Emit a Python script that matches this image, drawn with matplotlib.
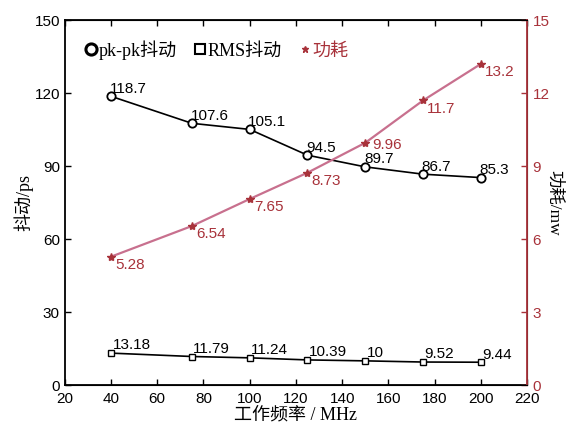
import numpy as np
import matplotlib.pyplot as plt

freq = [40, 75, 100, 125, 150, 175, 200]
pkpk = [118.7, 107.6, 105.1, 94.5, 89.7, 86.7, 85.3]
rms = [13.18, 11.79, 11.24, 10.39, 10, 9.52, 9.44]
power = [5.28, 6.54, 7.65, 8.73, 9.96, 11.7, 13.2]

pkpk_lbl = ['118.7', '107.6', '105.1', '94.5', '89.7', '86.7', '85.3']
rms_lbl = ['13.18', '11.79', '11.24', '10.39', '10', '9.52', '9.44']
pow_lbl = ['5.28', '6.54', '7.65', '8.73', '9.96', '11.7', '13.2']

serif_cjk = ['Liberation Serif', 'Noto Sans CJK SC']
red = '#a8323a'

plt.rcParams['font.family'] = ['Liberation Sans', 'Noto Sans CJK SC']

fig = plt.figure(figsize=(5.68, 4.28), dpi=100)
ax = fig.add_axes([0.114, 0.100, 0.814, 0.853])
ax2 = ax.twinx()

l1, = ax.plot(freq, pkpk, '-', color='black', lw=1.2, marker='o', ms=6,
              mfc='white', mec='black', mew=1.3, label='pk-pk抖动')
l2, = ax.plot(freq, rms, '-', color='black', lw=1.2, marker='s', ms=5,
              mfc='white', mec='black', mew=1.0, label='RMS抖动')
l3, = ax2.plot(freq, power, '-', color='#c8708e', lw=1.6, marker='*', ms=6,
               mfc=red, mec=red, label='功耗')

fs = 11
for x, y, t in zip(freq, pkpk, pkpk_lbl):
    ax.annotate(t, (x, y), textcoords='offset points', xytext=(-1, 5.5),
                ha='left', va='center', fontsize=fs)
for x, y, t in zip(freq, rms, rms_lbl):
    ax.annotate(t, (x, y), textcoords='offset points', xytext=(1, 5.5),
                ha='left', va='center', fontsize=fs)
for i, (x, y, t) in enumerate(zip(freq, power, pow_lbl)):
    off = (5, -1.5) if i == 4 else (3, -6)
    ax2.annotate(t, (x, y), textcoords='offset points', xytext=off,
                 ha='left', va='center', fontsize=fs, color=red)

ax.set_xlim(20, 220)
ax.set_ylim(0, 150)
ax2.set_ylim(0, 15)
ax.set_xticks(np.arange(20, 221, 20))
ax.set_yticks(np.arange(0, 151, 30))
ax2.set_yticks(np.arange(0, 16, 3))

ax.tick_params(direction='in', top=True, labelsize=11, length=4, width=1)
ax2.tick_params(direction='in', labelsize=11, length=4, width=1,
                colors=red, pad=4)
ax.tick_params(axis='x', pad=5)

for s in ['left', 'bottom', 'top']:
    ax.spines[s].set_linewidth(1.3)
ax2.spines['right'].set_color(red)
ax2.spines['right'].set_linewidth(1.3)
ax2.spines['left'].set_visible(False)

ax.set_xlabel('工作频率 / MHz', family=serif_cjk, fontsize=13, labelpad=0)
ax.set_ylabel('抖动/ps', family=serif_cjk, fontsize=13, labelpad=1)
ax2.set_ylabel('功耗/mw', family=serif_cjk, fontsize=12.5, rotation=270,
               labelpad=9)

leg = ax.legend(handles=[l1, l2, l3], loc='upper left', ncol=3, frameon=False,
                prop={'family': serif_cjk, 'size': 13}, handlelength=0.6,
                handletextpad=0.1, columnspacing=1.0,
                bbox_to_anchor=(0.01, 0.99))
for h in leg.legend_handles:
    h.set_linestyle('none')
leg.legend_handles[0].set_markersize(8)
leg.legend_handles[0].set_markeredgewidth(2.2)
leg.legend_handles[1].set_markersize(7)
leg.legend_handles[1].set_markeredgewidth(1.5)
leg.legend_handles[2].set_markersize(5)
leg.get_texts()[2].set_color(red)

fig.savefig('out.png', dpi=100)
